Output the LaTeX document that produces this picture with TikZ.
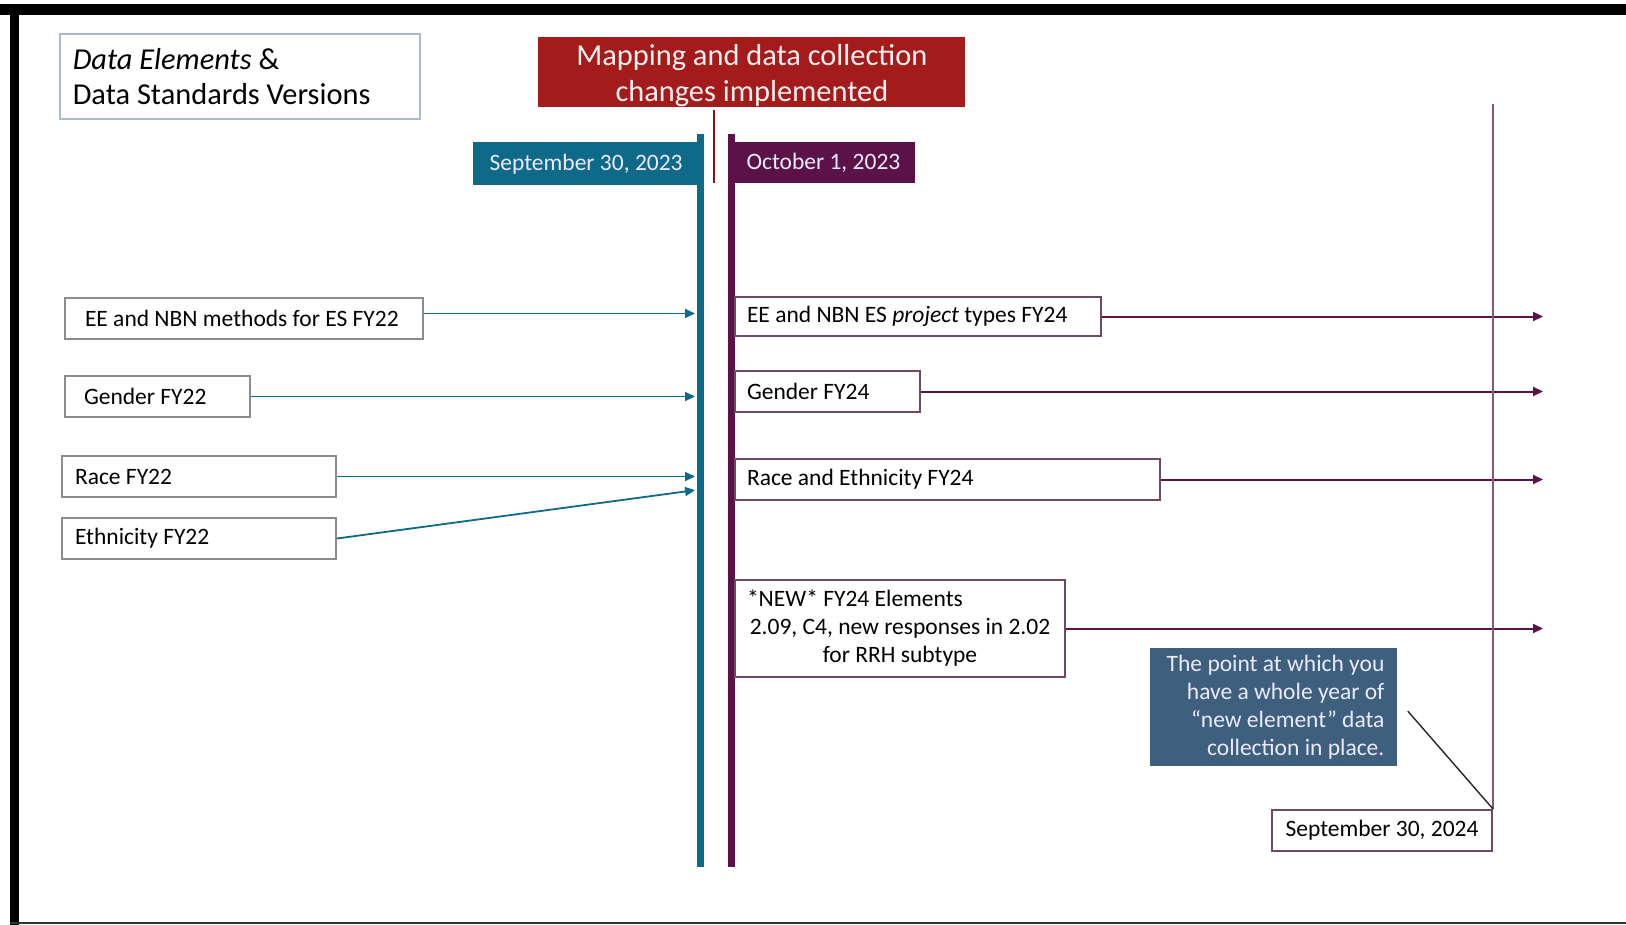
\documentclass[tikz,border=0pt]{standalone}
\usepackage{fontspec}
\setmainfont{Carlito}
\usetikzlibrary{arrows.meta,positioning}

\definecolor{septeal}{HTML}{0F6A8A}
\definecolor{octplum}{HTML}{5A1248}
\definecolor{maproon}{HTML}{A31B1B}
\definecolor{noteslate}{HTML}{3E5F7E}
\definecolor{oldgrey}{HTML}{8C8C8C}
\definecolor{newplum}{HTML}{6F4767}
\definecolor{yearline}{HTML}{7E5A7B}
\definecolor{titleedge}{HTML}{A9BAD0}

\tikzset{
  every node/.append style={execute at begin node={\spaceskip=0pt\relax}},
  bodyfont/.style={font=\fontsize{11.75}{14}\selectfont},
  oldbox/.style={draw=oldgrey, line width=1pt, anchor=north west, bodyfont, align=left, inner ysep=0pt, minimum height=20.5pt},
  newbox/.style={draw=newplum, line width=1pt, anchor=north west, bodyfont, align=left, inner xsep=6pt, inner ysep=0pt, minimum height=20.5pt},
  oldarrow/.style={draw=septeal, line width=0.9pt, -{Triangle[length=5pt,width=4.5pt]}, shorten >=2.5pt},
  newarrow/.style={draw=octplum, line width=1pt, -{Triangle[length=5pt,width=4.5pt]}},
  flag/.style={text=white!92!blue, bodyfont, minimum height=21.5pt, inner sep=0pt},
}

\begin{document}
\begin{tikzpicture}[x=0.5pt, y=-0.5pt]
    \fill[white] (0,0) rectangle (1626,925);
    \useasboundingbox (0,0) rectangle (1626,925);

    % frame of the slide
    \fill[black] (0,4) rectangle (1626,15);
    \fill[black] (10,4) rectangle (19,925);
    \draw[black!80, line width=1pt] (10,923) -- (1626,923);

    % headings
    \node[draw=titleedge, line width=0.8pt, anchor=north west, minimum height=42.5pt, text width=167pt, align=left, inner xsep=6.5pt, font=\fontsize{15.2}{17.5}\selectfont] (legend) at (59,33) {\mbox{\textit{Data Elements} \&}\\\mbox{Data Standards Versions}};
    \node[fill=maproon, text=white!94!red, anchor=north west, minimum width=213.5pt, minimum height=33.5pt, align=center, inner sep=0pt, font=\fontsize{15.2}{18}\selectfont] (mapping) at (538,37) {\rule{0pt}{14pt}\mbox{Mapping and data collection}\\\mbox{changes implemented}};
    \coordinate (mapfoot) at (714,183);
    \draw[maproon!80!black, line width=0.6pt] ([yshift=-1.5pt]mapping.south -| mapfoot) -- (mapfoot);

    % the two dates
    \node[flag, fill=septeal, anchor=north east, minimum width=113.5pt] (sepflag) at (700,142) {September 30, 2023};
    \node[flag, fill=octplum, anchor=north west, minimum width=92pt, minimum height=20.5pt] (octflag) at (731,142) {October 1, 2023};
    \coordinate (tealtop) at (700,134);
    \coordinate (tealbot) at (700,867);
    \coordinate (plumtop) at (731,134);
    \coordinate (plumbot) at (731,867);
    \draw[septeal, line width=3.5pt] (tealtop) -- (tealbot);
    \draw[octplum, line width=3.5pt] (plumtop) -- (plumbot);

    % FY22 elements
    \node[oldbox, inner xsep=10pt, text width=159pt] (ee22) at (64,297) {\mbox{EE and NBN methods for ES FY22}};
    \node[oldbox, inner xsep=9.5pt, text width=73.5pt] (gen22) at (64,375) {\mbox{Gender FY22}};
    \node[oldbox, inner xsep=6.5pt, text width=124pt] (race22) at (61,455) {\mbox{Race FY22}};
    \node[oldbox, inner xsep=6.5pt, text width=124pt] (eth22) at (61,517) {\mbox{Ethnicity FY22}};

    \draw[oldarrow] ([yshift=2.5pt]ee22.east) -- ([yshift=2.5pt]ee22.east -| tealtop);
    \draw[oldarrow] (gen22.east) -- (gen22.east -| tealtop);
    \draw[oldarrow] (race22.east) -- (race22.east -| tealtop);
    \draw[oldarrow] (eth22.east) -- ([yshift=-6.5pt]race22.east -| tealtop);

    % FY24 elements
    \node[newbox, text width=171pt, minimum height=19.5pt] (ee24) at (734,296) {\mbox{EE and NBN ES \textit{project} types FY24}};
    \node[newbox, text width=80.5pt] (gen24) at (734,370) {\mbox{Gender FY24}};
    \node[newbox, text width=200.5pt] (re24) at (734,458) {\mbox{Race and Ethnicity FY24}};
    \node[newbox, text width=153pt, minimum height=48.5pt, align=center] (new24) at (734,579) {\makebox[\linewidth][l]{*NEW* FY24 Elements}\\\mbox{2.09, C4, new responses in 2.02}\\\mbox{for RRH subtype}};

    \coordinate (arrowend) at (1543,300);
    \draw[newarrow] (ee24.east) -- (ee24.east -| arrowend);
    \draw[newarrow] (gen24.east) -- (gen24.east -| arrowend);
    \draw[newarrow] (re24.east) -- (re24.east -| arrowend);
    \draw[newarrow] (new24.east) -- (new24.east -| arrowend);

    % one year later
    \coordinate (yeartop) at (1493,104);
    \node[draw=newplum, line width=1pt, bodyfont, anchor=north east, minimum width=110pt, minimum height=20.5pt, inner sep=0pt] (sep24) at (1493,809) {September 30, 2024};
    \draw[yearline, line width=1pt] (yeartop) -- (sep24.north east);
    \node[fill=noteslate, text=white!92!blue, anchor=north west, minimum height=58pt, text width=110.5pt, align=right, inner xsep=6.5pt, bodyfont] (note) at (1150,648) {\mbox{The point at which you}\\\mbox{have a whole year of}\\\mbox{“new element” data}\\\mbox{collection in place.}};
    \draw[black!85, line width=0.7pt] ([xshift=5pt,yshift=-2pt]note.east) -- (sep24.north east);
\end{tikzpicture}
\end{document}
